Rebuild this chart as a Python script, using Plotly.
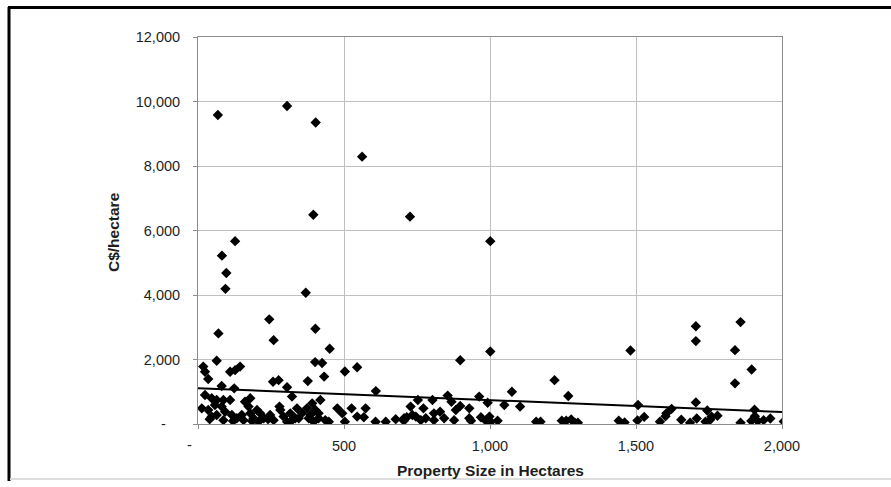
import plotly.graph_objects as go

# ---- data ----
size_ha = [
    68, 305, 403, 562, 395, 726, 127, 82, 97, 94, 369, 1001, 1001, 898, 402, 451, 401, 425, 432, 376, 503, 545, 609,
    244, 259, 70, 64, 18, 24, 35, 110, 127, 144, 257, 276, 305, 322, 81, 124, 24, 47, 64, 87, 58, 81, 110, 161, 179,
    173, 202, 13, 35, 64, 93, 47, 116, 133, 150, 179, 190, 213, 225, 247, 259, 282, 293, 316, 333, 87, 156, 207, 305,
    279, 40, 120, 185, 240, 320,
    419, 391, 373, 402, 385, 477, 494, 526, 574, 545, 568, 503, 608, 643, 677, 705, 339, 345, 379, 413, 436, 448, 396,
    356, 413,
    1075, 855, 963, 753, 803, 868, 992, 1049, 1103, 772, 898, 883, 929, 829, 728, 734, 715, 746, 763, 780, 808, 843,
    877, 929, 935, 969, 986, 998, 1003, 1026, 808, 706,
    1221, 1268, 1158, 1173, 1246, 1261, 1278, 1290, 1301, 1441, 1461,
    1481, 1705, 1705, 1858, 1839, 1896, 1839, 1507, 1705, 1622, 1744, 1906, 1505, 1528, 1582, 1601, 1604, 1655, 1685,
    1708, 1738, 1754, 1759, 1779, 1858, 1895, 1907, 1917, 1937, 1960, 2006,
]
price_per_ha = [
    9580, 9860, 9350, 8290, 6490, 6430, 5670, 5220, 4680, 4190, 4070, 5670, 2250, 1975, 2955, 2335, 1920, 1890, 1470,
    1330, 1630, 1760, 1020,
    3245, 2600, 2810, 1960, 1780, 1620, 1395, 1620, 1670, 1780, 1310, 1360, 1140, 850, 1180, 1105, 900, 800, 745, 745,
    590, 540, 745, 690, 800, 540, 435, 485, 435, 280, 380, 230, 280, 180, 280, 330, 180, 330, 180, 280, 120, 435, 230,
    330, 180, 120, 120, 70, 70, 540, 150, 90, 90, 150, 100,
    745, 640, 485, 435, 280, 485, 330, 485, 485, 230, 210, 70, 70, 70, 150, 100, 485, 180, 180, 180, 120, 70, 70, 330,
    330,
    1000, 880, 850, 745, 745, 690, 660, 590, 540, 485, 560, 435, 485, 380, 540, 280, 210, 230, 120, 180, 120, 180, 120,
    180, 100, 210, 100, 230, 70, 100, 330, 180,
    1360, 870, 70, 70, 100, 100, 140, 40, 40, 100, 50,
    2280, 3030, 2570, 3160, 2290, 1690, 1260, 590, 670, 470, 420, 440, 110, 220, 70, 240, 330, 130, 40, 170, 70, 130,
    230, 255, 40, 95, 240, 90, 120, 170, 80,
]
trend_x = [0, 2000]
trend_y = [1110, 370]

x_tickvals = [0, 500, 1000, 1500, 2000]
x_ticktext = ["", "500", "1,000", "1,500", "2,000"]
y_tickvals = [0, 2000, 4000, 6000, 8000, 10000, 12000]
y_ticktext = ["", "2,000", "4,000", "6,000", "8,000", "10,000", "12,000"]
zero_label = "-"

W, H = 891, 487
L, R, T, B = 198, 109, 37, 63
PW, PH = W - L - R, H - T - B

def px(xp):
    return (xp - L) / PW

def py(yp):
    return (H - B - yp) / PH

FONT = "Liberation Sans, Arial, sans-serif"
TXT = "#1e1e1e"

fig = go.Figure()
fig.add_trace(go.Scatter(
    x=size_ha, y=price_per_ha, mode="markers",
    marker=dict(symbol="diamond", size=8, color="black", line=dict(width=0)),
    showlegend=False, hoverinfo="x+y",
))
fig.add_trace(go.Scatter(
    x=trend_x, y=trend_y, mode="lines",
    line=dict(color="black", width=2), showlegend=False, hoverinfo="skip",
))

axis_common = dict(
    showgrid=True, gridcolor="#c0c0c0", gridwidth=1,
    showline=True, linecolor="#8c8c8c", linewidth=1, mirror=True,
    zeroline=False, ticks="outside", ticklen=4, tickcolor="#8c8c8c",
    tickfont=dict(family=FONT, size=14.5, color=TXT),
)
fig.update_xaxes(range=[0, 2000], tickvals=x_tickvals, ticktext=x_ticktext,
                 ticklabelstandoff=5, **axis_common)
fig.update_yaxes(range=[0, 12000], tickvals=y_tickvals, ticktext=y_ticktext,
                 ticklabelstandoff=10, **axis_common)

fig.update_layout(
    width=W, height=H,
    margin=dict(l=L, r=R, t=T, b=B, pad=0),
    paper_bgcolor="white", plot_bgcolor="white",
    font=dict(family=FONT, color=TXT),
    annotations=[
        dict(text="<b>Property Size in Hectares</b>", xref="paper", yref="paper",
             x=px(490), y=py(470), xanchor="center", yanchor="middle", showarrow=False,
             font=dict(family=FONT, size=15.5, color=TXT)),
        dict(text="<b>C$/hectare</b>", xref="paper", yref="paper",
             x=px(113), y=py(232), xanchor="center", yanchor="middle", showarrow=False,
             textangle=-90, font=dict(family=FONT, size=15.5, color=TXT)),
        dict(text=zero_label, xref="paper", yref="paper",
             x=px(163), y=py(424), xanchor="center", yanchor="middle", showarrow=False,
             font=dict(family=FONT, size=14.5, color=TXT)),
        dict(text=zero_label, xref="paper", yref="paper",
             x=px(189), y=py(445), xanchor="center", yanchor="middle", showarrow=False,
             font=dict(family=FONT, size=14.5, color=TXT)),
    ],
    shapes=[
        dict(type="line", xref="paper", yref="paper", x0=px(9), x1=px(9), y0=py(7), y1=py(481),
             line=dict(color="black", width=3)),
        dict(type="line", xref="paper", yref="paper", x0=px(8), x1=px(891), y0=py(7.5), y1=py(7.5),
             line=dict(color="black", width=3)),
        dict(type="line", xref="paper", yref="paper", x0=px(10), x1=px(891), y0=py(479), y1=py(479),
             line=dict(color="#dddddd", width=2)),
    ],
)

fig.write_html("out.html")
